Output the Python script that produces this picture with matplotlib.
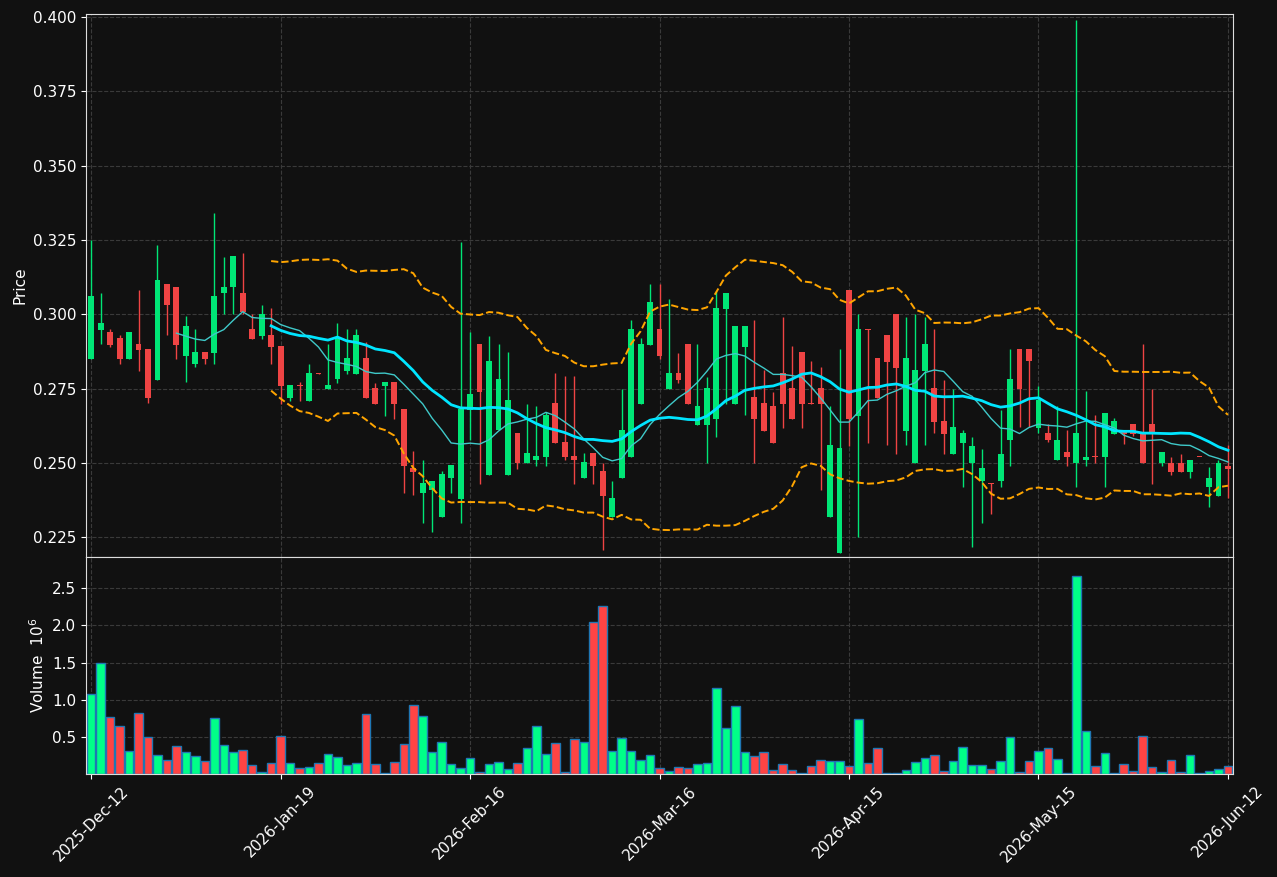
import matplotlib
matplotlib.use("Agg")
import matplotlib.pyplot as plt
import numpy as np
import pandas as pd

opens = [.2850,.2948,.2940,.2921,.2850,.2900,.2883,.2780,.3103,.3093,
         .2861,.2831,.2873,.2870,.3070,.3091,.3073,.2951,.2927,.2931,
         .2894,.2718,.2761,.2709,.2802,.2749,.2781,.2809,.2800,.2853,
         .2751,.2759,.2771,.2680,.2481,.2397,.2408,.2317,.2448,.2377,
         .2677,.2900,.2459,.2609,.2459,.2599,.2499,.2508,.2519,.2700,
         .2570,.2522,.2448,.2532,.2471,.2317,.2448,.2519,.2698,.2896,
         .2950,.2749,.2802,.2900,.2627,.2627,.2648,.3018,.2698,.2891,
         .2721,.2700,.2690,.2801,.2751,.2873,.2700,.2751,.2317,.2195,
         .3082,.2658,.2949,.2852,.2930,.3001,.2607,.2499,.2810,.2751,
         .2640,.2529,.2566,.2499,.2440,.2431,.2440,.2577,.2883,.2883,
         .2617,.2599,.2508,.2538,.2499,.2508,.2521,.2518,.2597,.2607,
         .2630,.2598,.2630,.2499,.2500,.2500,.2468,.2521,.2418,.2388,
         .2490]
closes = [.3063,.2970,.2897,.2850,.2941,.2881,.2719,.3114,.3030,.2898,
          .2961,.2873,.2850,.3063,.3093,.3195,.3009,.2917,.3002,.2891,
          .2759,.2762,.2758,.2802,.2800,.2762,.2924,.2853,.2931,.2719,
          .2698,.2771,.2698,.2489,.2469,.2431,.2440,.2461,.2491,.2680,
          .2731,.2739,.2842,.2782,.2711,.2499,.2532,.2522,.2660,.2567,
          .2518,.2508,.2501,.2489,.2388,.2380,.2609,.2950,.2900,.3042,
          .2860,.2801,.2779,.2698,.2690,.2751,.3021,.3072,.2961,.2961,
          .2648,.2607,.2566,.2698,.2648,.2698,.2698,.2698,.2559,.2549,
          .2648,.2950,.2946,.2718,.2840,.2820,.2852,.2812,.2900,.2637,
          .2598,.2619,.2599,.2558,.2484,.2429,.2530,.2782,.2749,.2841,
          .2710,.2577,.2578,.2518,.2599,.2521,.2520,.2669,.2640,.2597,
          .2597,.2499,.2598,.2538,.2468,.2468,.2510,.2519,.2449,.2500,
          .2478]
highs = [.3250,.3072,.2951,.2930,.2941,.3082,.2883,.3234,.3103,.3093,
         .2993,.2950,.2873,.3342,.3194,.3195,.3205,.3000,.3031,.3021,
         .2894,.2762,.2772,.2832,.2802,.2899,.2970,.2950,.2950,.2908,
         .2770,.2771,.2771,.2680,.2541,.2510,.2440,.2471,.2491,.3243,
         .2939,.2900,.2928,.2899,.2872,.2599,.2699,.2690,.2670,.2801,
         .2792,.2792,.2532,.2532,.2500,.2440,.2750,.2980,.2920,.3101,
         .3101,.3051,.2869,.2900,.2900,.2789,.3077,.3072,.2961,.2961,
         .2981,.2811,.2739,.2990,.2893,.2873,.2842,.2823,.2690,.2883,
         .3082,.3000,.2949,.2852,.2930,.3001,.2990,.3000,.2990,.2950,
         .2780,.2750,.2610,.2587,.2546,.2431,.2679,.2882,.2883,.2883,
         .2760,.2630,.2690,.2610,.3990,.2740,.2660,.2669,.2650,.2607,
         .2630,.2900,.2750,.2538,.2520,.2530,.2510,.2521,.2485,.2510,
         .2560]
lows = [.2850,.2899,.2891,.2832,.2850,.2810,.2700,.2780,.2929,.2850,
        .2771,.2821,.2832,.2832,.3000,.3000,.3000,.2917,.2917,.2832,
        .2699,.2709,.2709,.2709,.2800,.2749,.2770,.2800,.2800,.2719,
        .2698,.2659,.2649,.2399,.2390,.2297,.2268,.2317,.2399,.2297,
        .2576,.2429,.2459,.2609,.2459,.2480,.2499,.2490,.2490,.2567,
        .2510,.2429,.2448,.2429,.2206,.2317,.2448,.2519,.2698,.2896,
        .2850,.2749,.2769,.2698,.2627,.2500,.2587,.2699,.2698,.2660,
        .2500,.2607,.2566,.2617,.2648,.2618,.2698,.2409,.2317,.2195,
        .2556,.2250,.2567,.2718,.2560,.2530,.2560,.2499,.2560,.2600,
        .2530,.2529,.2418,.2217,.2296,.2328,.2420,.2490,.2620,.2620,
        .2600,.2569,.2508,.2490,.2419,.2490,.2500,.2420,.2597,.2564,
        .2590,.2499,.2429,.2490,.2460,.2468,.2450,.2519,.2350,.2388,
        .2380]
volumes = [1.08,1.49,0.77,0.65,0.31,0.82,0.50,0.26,0.19,0.38,
           0.30,0.24,0.18,0.76,0.39,0.30,0.32,0.12,0.03,0.15,
           0.51,0.15,0.08,0.09,0.15,0.27,0.23,0.12,0.15,0.81,
           0.14,0.01,0.16,0.41,0.93,0.78,0.30,0.43,0.14,0.08,
           0.22,0.03,0.14,0.16,0.07,0.15,0.35,0.65,0.27,0.42,
           0.03,0.47,0.43,2.04,2.26,0.31,0.49,0.31,0.19,0.26,
           0.08,0.04,0.09,0.08,0.14,0.15,1.16,0.62,0.92,0.30,
           0.24,0.30,0.05,0.14,0.05,0.01,0.11,0.19,0.18,0.18,
           0.11,0.74,0.15,0.35,0.01,0.01,0.05,0.16,0.22,0.26,
           0.04,0.18,0.36,0.12,0.12,0.07,0.18,0.50,0.03,0.18,
           0.31,0.35,0.20,0.01,2.66,0.58,0.11,0.28,0.01,0.14,
           0.04,0.51,0.09,0.03,0.19,0.03,0.26,0.01,0.04,0.07,
           0.11]
tick_pos = [0, 20, 40, 60, 80, 100, 120]
tick_labels = ["2025-Dec-12", "2026-Jan-19", "2026-Feb-16", "2026-Mar-16",
               "2026-Apr-15", "2026-May-15", "2026-Jun-12"]

BG = "#111111"
UP, DN = "#00e676", "#ef4444"
VUP, VDN = "#00ff88", "#ff4444"

o = np.array(opens); c = np.array(closes); h = np.array(highs); l = np.array(lows)
v = np.array(volumes)
x = np.arange(len(o))
up = c >= o
s = pd.Series(c)
ma10 = s.rolling(10).mean()
ma20 = s.rolling(20).mean()
sd20 = s.rolling(20).std(ddof=0)

fig = plt.figure(figsize=(12.77, 8.77), dpi=100, facecolor=BG)
ax = fig.add_axes([0.0673, 0.3649, 0.898, 0.619], facecolor=BG)
axv = fig.add_axes([0.0673, 0.1174, 0.898, 0.2474], facecolor=BG, sharex=ax)

for a in (ax, axv):
    a.grid(True, color="#3a3a3a", linestyle="--", linewidth=0.8)
    a.set_axisbelow(True)
    for sp in a.spines.values():
        sp.set_color("#dddddd")
    a.tick_params(colors="white", labelsize=11)

cols = np.where(up, UP, DN)
ax.vlines(x, l, h, colors=cols, linewidth=1)
ax.bar(x, np.maximum(np.abs(c - o), 0.0003), bottom=np.minimum(o, c), width=0.62, color=cols)
ax.plot(x, ma10, color="#3fc9c9", linewidth=1)
ax.plot(x, ma20, color="#00e5ff", linewidth=2)
ax.plot(x, ma20 + 2 * sd20, color="#ffa500", linestyle="--", linewidth=1.4)
ax.plot(x, ma20 - 2 * sd20, color="#ffa500", linestyle="--", linewidth=1.4)
ax.set_ylim(0.2183, 0.401)
ax.set_yticks([0.225, 0.25, 0.275, 0.3, 0.325, 0.35, 0.375, 0.4])
ax.yaxis.set_major_formatter(matplotlib.ticker.FormatStrFormatter("%.3f"))
ax.set_ylabel("Price", color="white", fontsize=11)
ax.tick_params(axis="x", labelbottom=False, length=0)

axv.bar(x, v, width=0.9, color=np.where(up, VUP, VDN), edgecolor="#1f77b4", linewidth=1)
axv.set_ylim(0, 2.92)
axv.set_yticks([0.5, 1.0, 1.5, 2.0, 2.5])
axv.set_ylabel("Volume  $10^6$", color="white", fontsize=11)
axv.set_xlim(-0.55, 120.5)
axv.set_xticks(tick_pos)
axv.set_xticklabels(tick_labels, rotation=45, ha="center")

fig.savefig("out.png", dpi=100, facecolor=BG)
